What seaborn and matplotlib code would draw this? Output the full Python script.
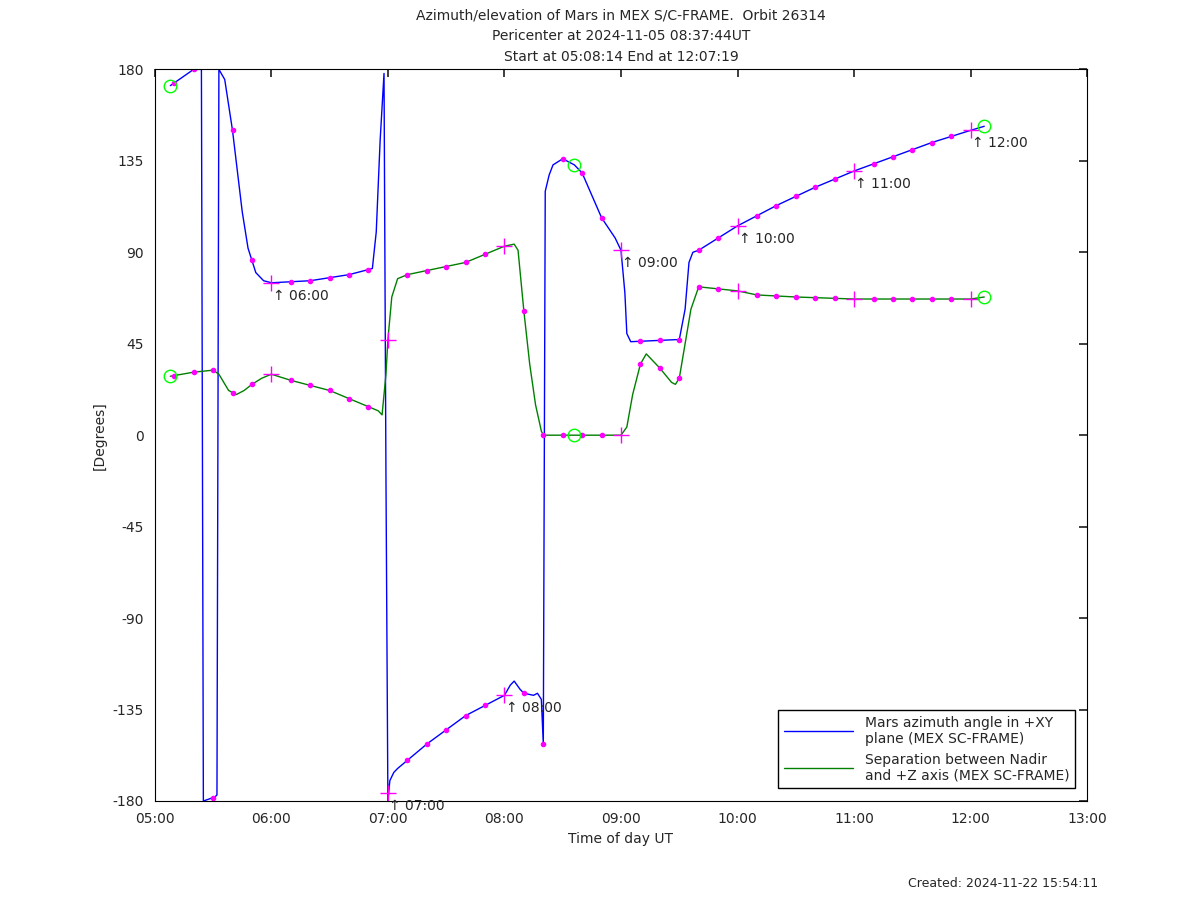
import numpy as np
import matplotlib
matplotlib.use("Agg")
import matplotlib.pyplot as plt
import seaborn as sns

sns.set_theme(style="white")
plt.rcParams['font.family'] = ['DejaVu Sans']
plt.rcParams['axes.unicode_minus'] = False

def h(s):
    a, b = s.split(":")
    return int(a) + int(b) / 60

az_t = ["05:08","05:14","05:20","05:24","05:25","05:31","05:32","05:33","05:36","05:40","05:45","05:48","05:52","05:56","06:00","06:20","06:40","06:52","06:54","06:56","06:58","06:59","07:00","07:01","07:03","07:05","07:20","07:40","07:50","08:00","08:03","08:05","08:08","08:10","08:15","08:17","08:19","08:20","08:21","08:23","08:25","08:30","08:36","08:40","08:50","08:57","09:00","09:02","09:03","09:05","09:28","09:30","09:33","09:35","09:37","09:40","09:50","10:00","10:20","10:40","11:00","11:20","11:40","12:00","12:07"]
az_v = [172,176,180,180,-180,-178,-177,180,175,150,110,92,80,76,75,76,79,82,100,145,178,-20,-180,-170,-166,-164,-152,-138,-133,-128,-123,-121,-125,-127,-128,-127,-130,-152,120,128,133,136,133,129,107,97,91,70,50,46,47,47,62,85,90,91,97,103,113,122,130,137,144,150,152]
el_t = ["05:08","05:20","05:30","05:33","05:38","05:42","05:46","05:50","05:55","06:00","06:10","06:30","06:45","06:55","06:57","06:59","07:00","07:02","07:05","07:10","07:40","08:00","08:05","08:07","08:10","08:13","08:16","08:19","08:20","08:30","09:00","09:03","09:06","09:10","09:13","09:20","09:26","09:28","09:30","09:33","09:36","09:40","10:00","10:10","10:30","11:00","12:00","12:07"]
el_v = [29,31,32,30,22,20,22,25,28,30,27,22,16,12,10,30,47,68,77,79,85,93,94,91,61,35,15,2,0,0,0,4,20,35,40,33,26,25,28,45,62,73,71,69,68,67,67,68]
hour_labels = ["06:00","07:00","08:00","09:00","10:00","11:00","12:00"]
circle_t = ["05:08","08:36","12:07"]

azt = np.array([h(s) for s in az_t]); azv = np.array(az_v, float)
elt = np.array([h(s) for s in el_t]); elv = np.array(el_v, float)

fig = plt.figure(figsize=(12, 9.01), dpi=100)
ax = fig.add_axes([0.129, 0.111, 0.777, 0.812])
sns.lineplot(x=azt, y=azv, ax=ax, color="blue", lw=1, sort=False, estimator=None,
             label="Mars azimuth angle in +XY\nplane (MEX SC-FRAME)")
sns.lineplot(x=elt, y=elv, ax=ax, color="green", lw=1, sort=False, estimator=None,
             label="Separation between Nadir\nand +Z axis (MEX SC-FRAME)")

ticks10 = np.arange(h("05:10"), h("12:07"), 1/6)
ticks10 = ticks10[np.abs(ticks10 - np.round(ticks10)) > 0.01]
ax.plot(ticks10, np.interp(ticks10, azt, azv), ls="none", marker="o", ms=3, color="magenta")
ax.plot(ticks10, np.interp(ticks10, elt, elv), ls="none", marker="o", ms=3, color="magenta")
hrs = np.array([h(s) for s in hour_labels])
ay = [75, -176, -128, 91, 103, 130, 150]
ey = np.interp(hrs, elt, elv)
ax.plot(hrs, ay, ls="none", marker="+", ms=11, color="magenta", mew=1)
ax.plot(hrs, ey, ls="none", marker="+", ms=11, color="magenta", mew=1)
for t, y, lab in zip(hrs, ay, hour_labels):
    ax.text(t + 0.01, y - 3, "\u2191 " + lab, fontsize=10, va="top", ha="left")
ct = np.array([h(s) for s in circle_t])
ax.plot(ct, [172, 133, 152], ls="none", marker="o", ms=9, mfc="none", mec="lime")
ax.plot(ct, [29, 0, 68], ls="none", marker="o", ms=9, mfc="none", mec="lime")

ax.set_xlim(5, 13); ax.set_ylim(-180, 180)
ax.set_xticks(range(5, 14)); ax.set_xticklabels([f"{i:02d}:00" for i in range(5, 14)])
ax.set_yticks(range(-180, 181, 45))
ax.tick_params(direction="in", top=True, right=True, length=6, labelsize=10, pad=8)
for s in ax.spines.values():
    s.set_color("black"); s.set_linewidth(0.8)
ax.set_xlabel("Time of day UT", fontsize=10)
ax.set_ylabel("[Degrees]", fontsize=10)
ax.set_title("Azimuth/elevation of Mars in MEX S/C-FRAME.  Orbit 26314\nPericenter at 2024-11-05 08:37:44UT\nStart at 05:08:14 End at 12:07:19", fontsize=10, linespacing=1.6)
ax.legend(loc="lower right", fontsize=10, fancybox=False, edgecolor="black", framealpha=1, handlelength=5,
          borderaxespad=0.9)
fig.text(0.915, 0.015, "Created: 2024-11-22 15:54:11", ha="right", fontsize=9)
fig.savefig("out.png", dpi=100)
